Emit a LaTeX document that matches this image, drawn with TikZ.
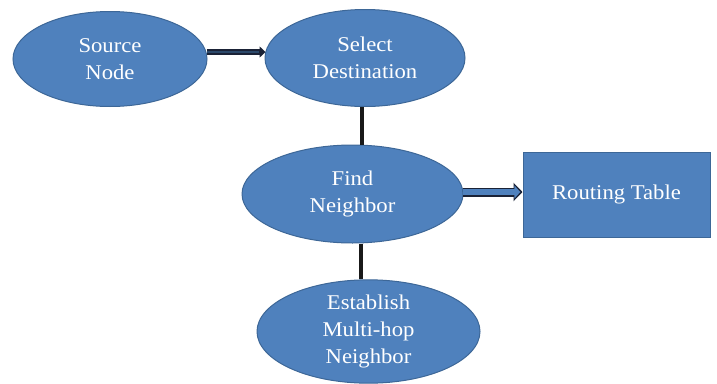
\documentclass[tikz,border=0pt]{standalone}
\usepackage{fontspec}
\setmainfont{Liberation Serif}[FakeStretch=1.08]
\usetikzlibrary{shapes.geometric,arrows.meta,calc}
\definecolor{boxblue}{HTML}{4F81BD}
\definecolor{boxedge}{HTML}{3D6797}
\definecolor{darkline}{HTML}{1A2236}
\begin{document}
\begin{tikzpicture}[x=1pt,y=-1pt,
  blob/.style={ellipse, fill=boxblue, draw=boxedge, line width=1pt, inner sep=0pt,
     text=white, align=center, font=\fontsize{21}{27}\selectfont},
  tbox/.style={rectangle, fill=boxblue, draw=boxedge, line width=1pt, inner sep=0pt,
     text=white, align=center, font=\fontsize{21}{27}\selectfont},
  stem/.style={draw=black!90, line width=4pt}]
\useasboundingbox (0,0) rectangle (717,383);
\node[blob, minimum width=194pt, minimum height=95pt] (src) at (110,59) {Source\\Node};
\node[blob, minimum width=200pt, minimum height=97pt] (sel) at (365,58) {Select\\Destination};
\node[blob, minimum width=221pt, minimum height=98pt] (find) at (352.5,194) {Find\\Neighbor};
\node[blob, minimum width=223pt, minimum height=99pt] (est) at (368.5,331.5) {Establish\\Multi-hop\\Neighbor};
\node[tbox, minimum width=187pt, minimum height=85pt] (rt) at (616.5,194.5) {Routing Table};
% vertical connectors
\draw[stem] ([xshift=-3pt]sel.south) -- ([xshift=-3pt]sel.south |- find.north);
\draw[stem] ([xshift=8.5pt]find.south) -- ([xshift=-7.5pt]est.north);
% arrow Source -> Select
\draw[darkline, line width=6pt, -{Triangle[length=6pt,width=11pt]}, shorten >=-1pt]
  ([xshift=-1pt,yshift=7pt]src.east) -- ([yshift=7pt]src.east -| sel.west);
\draw[boxedge!70!black, line width=2pt, shorten >=6pt]
  ([xshift=-1pt,yshift=7pt]src.east) -- ([yshift=7pt]src.east -| sel.west);
% arrow Find -> Routing Table
\draw[darkline, line width=9pt, -{Triangle[length=9pt,width=18pt]}]
  ([xshift=-1pt,yshift=2pt]find.east) -- ([yshift=2pt]find.east -| rt.west);
\draw[boxblue, line width=6pt, -{Triangle[length=6pt,width=13pt]}, shorten >=2.2pt]
  ([xshift=-1pt,yshift=2pt]find.east) -- ([yshift=2pt]find.east -| rt.west);
\end{tikzpicture}
\end{document}
